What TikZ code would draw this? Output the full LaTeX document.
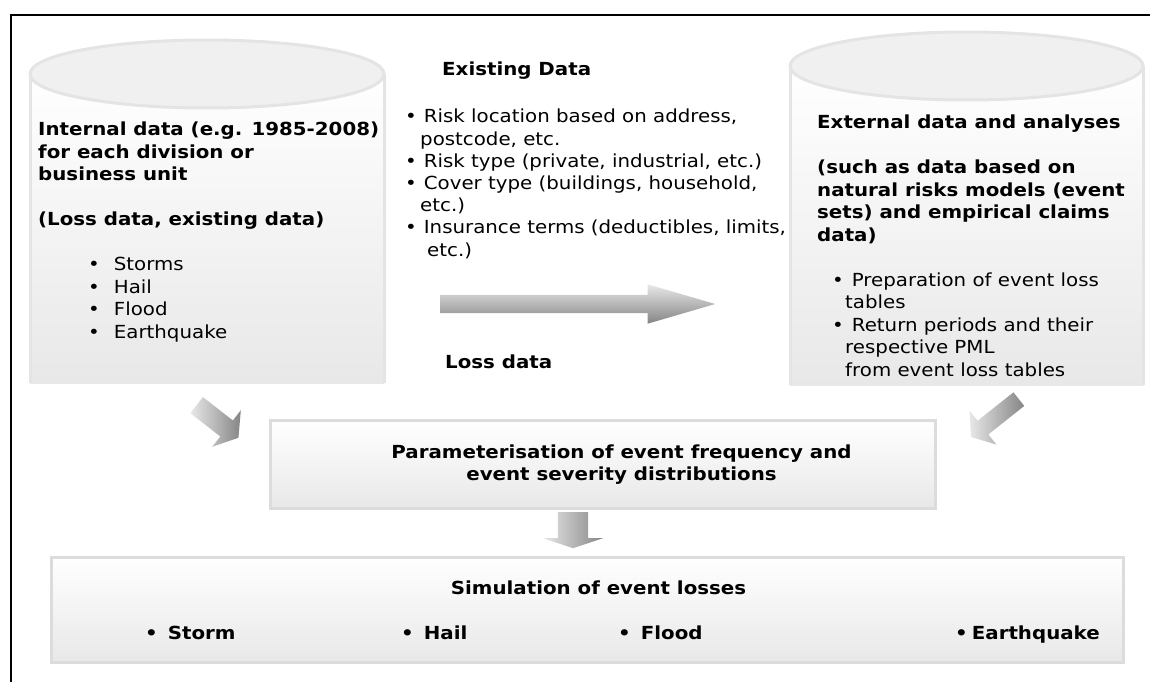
\documentclass[tikz,border=0pt]{standalone}
\usepackage{fontspec}
\setmainfont{DejaVu Sans}[FakeStretch=1.1]
\usetikzlibrary{shapes.arrows}
\definecolor{rimgray}{HTML}{E4E4E4}
\definecolor{lidgray}{HTML}{F0F0F0}
\definecolor{boxgray}{HTML}{DCDCDC}
\definecolor{shadegray}{HTML}{E8E8E8}
\definecolor{arrlight}{HTML}{E8E8E8}
\definecolor{arrdark}{HTML}{858585}
\tikzset{
  stage/.style={draw=boxgray, line width=3pt, top color=white,
    bottom color=shadegray, inner sep=0pt},
  txt/.style={inner sep=0pt, align=left,
    font=\fontsize{18}{22.5}\selectfont},
  boldtxt/.style={txt, font=\bfseries\fontsize{18}{22}\selectfont},
  bigarrow/.style={single arrow, inner xsep=0pt, anchor=tail,
    single arrow head indent=0pt},
}
\begin{document}
\begin{tikzpicture}[x=1pt, y=-1pt]
  \useasboundingbox (0, 0) rectangle (1150, 682);
  \draw[line width=2pt] (11, 682) -- (11, 15) -- (1150, 15);

  \shade[top color=white, bottom color=shadegray] (30, 74)
    rectangle (384, 383);
  \draw[rimgray, line width=3pt] (30, 383) -- (30, 74)
    (384, 74) -- (384, 383);
  \draw[rimgray, fill=lidgray, line width=3pt] (207, 74)
    ellipse (177 and 34);

  \shade[top color=white, bottom color=shadegray] (790, 66)
    rectangle (1143, 385);
  \draw[rimgray, line width=3pt] (790, 385) -- (790, 66)
    (1143, 66) -- (1143, 385);
  \draw[rimgray, fill=lidgray, line width=3pt] (966.5, 66)
    ellipse (176.5 and 34);

  \node[txt, anchor=base west] (intl) at (38, 338)
    {\textbf{Internal data (e.g. 1985-2008)}\\
     \textbf{for each division or}\\
     \textbf{business unit}\\[22.5pt]
     \textbf{(Loss data, existing data)}\\[22.5pt]
     \hspace*{50pt}\textbullet\hspace{14pt}Storms\\
     \hspace*{50pt}\textbullet\hspace{14pt}Hail\\
     \hspace*{50pt}\textbullet\hspace{14pt}Flood\\
     \hspace*{50pt}\textbullet\hspace{14pt}Earthquake};

  \node[boldtxt, anchor=base west] (exhead) at (442, 76)
    {Existing Data};
  \node[txt, anchor=base west, font=\fontsize{18}{22.2}\selectfont]
    (exlist) at (405, 256)
    {\textbullet\hspace{7pt}Risk location based on address,\\
     \hspace*{15pt}postcode, etc.\\
     \textbullet\hspace{7pt}Risk type (private, industrial, etc.)\\
     \textbullet\hspace{7pt}Cover type (buildings, household,\\
     \hspace*{15pt}etc.)\\
     \textbullet\hspace{7pt}Insurance terms (deductibles, limits,\\
     \hspace*{22pt}etc.)};
  \node[boldtxt, anchor=base west] (lossdata) at (445, 368)
    {Loss data};

  \node[txt, anchor=base west] (extl) at (817, 376)
    {\textbf{External data and analyses}\\[22.5pt]
     \textbf{(such as data based on}\\
     \textbf{natural risks models (event}\\
     \textbf{sets) and empirical claims}\\
     \textbf{data)}\\[22.5pt]
     \hspace*{15pt}\textbullet\hspace{8pt}Preparation of event loss\\
     \hspace*{28pt}tables\\
     \hspace*{15pt}\textbullet\hspace{8pt}Return periods and their\\
     \hspace*{28pt}respective PML\\
     \hspace*{28pt}from event loss tables};

  \node[bigarrow, minimum height=275, inner ysep=9,
    single arrow head extend=10.5, single arrow tip angle=32.5,
    top color=arrlight, bottom color=arrdark] (flowarr)
    at (440, 304) {};

  \node[stage, minimum width=665, minimum height=88] (param)
    at (602.5, 464) {};
  \node[boldtxt, align=center] (paramtxt) at (621.5, 465)
    {Parameterisation of event frequency and\\
     event severity distributions};

  \node[bigarrow, minimum height=53, inner ysep=10, rotate=-38,
    single arrow head extend=13, single arrow tip angle=114,
    left color=arrlight, right color=arrdark] (intarr)
    at (196.5, 405) {};
  \node[bigarrow, minimum height=61, inner ysep=8.5, rotate=-141.6,
    single arrow head extend=13, single arrow tip angle=110,
    left color=arrlight, right color=arrdark] (extarr)
    at (1019, 399) {};
  \node[bigarrow, minimum height=36, inner ysep=15, rotate=-90,
    single arrow head extend=15, single arrow tip angle=143,
    left color=arrlight, right color=arrdark] (simarr)
    at (573, 512) {};

  \node[stage, minimum width=1072, minimum height=105] (sim)
    at (587, 609.5) {};
  \node[boldtxt, anchor=base] (simtxt) at (598.5, 594)
    {Simulation of event losses};
  \node[boldtxt, anchor=base west] (storm) at (145, 639)
    {\textbullet\hspace{10pt}Storm};
  \node[boldtxt, anchor=base west] (hail) at (401, 639)
    {\textbullet\hspace{10pt}Hail};
  \node[boldtxt, anchor=base west] (flood) at (618, 639)
    {\textbullet\hspace{10pt}Flood};
  \node[boldtxt, anchor=base west] (quake) at (955, 639)
    {\textbullet\hspace{4pt}Earthquake};
\end{tikzpicture}
\end{document}
